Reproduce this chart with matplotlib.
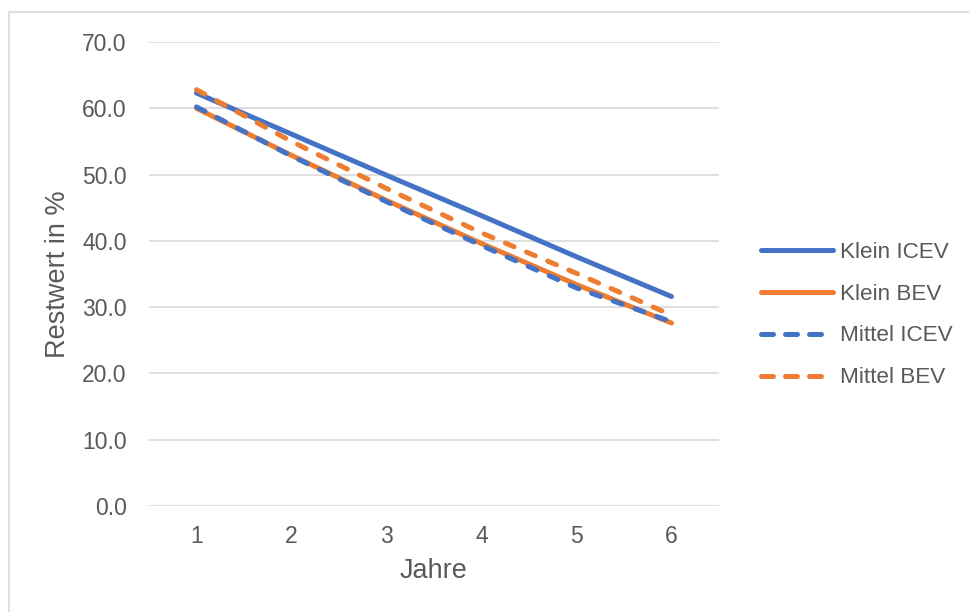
import matplotlib

matplotlib.use("Agg")
import matplotlib.pyplot as plt
from matplotlib.patches import Rectangle

plt.rcParams["font.family"] = ["Liberation Sans", "DejaVu Sans"]

# Daten
jahre = [1, 2, 3, 4, 5, 6]
klein_icev = [62.3, 56.1, 49.9, 43.8, 37.6, 31.6]
klein_bev = [60.0, 52.9, 46.1, 39.6, 33.4, 27.6]
mittel_icev = [60.2, 52.8, 45.9, 39.3, 32.9, 27.8]
mittel_bev = [62.8, 55.0, 47.9, 41.2, 35.1, 28.8]
y_ticks = [0, 10, 20, 30, 40, 50, 60, 70]

BLUE = "#4472C4"
ORANGE = "#ED7D31"
GRID = "#D9D9D9"
TEXT = "#595959"
FS_TICK = 16.5
FS_LEG = 16.2
FS_TITLE = 19.5

fig = plt.figure(figsize=(9.7, 6.12), dpi=100)
W, H = 970, 612

# Rahmen um das Diagramm
fig.patches.append(Rectangle((9 / W, -0.1), 1.1, 1 - 12 / H + 0.1,
                             transform=fig.transFigure, fill=False,
                             edgecolor=GRID, lw=1.2))

ax = fig.add_axes([149 / W, 1 - 506 / H, 570 / W, 464 / H])

lw = 3.6
dash = (1.9, 2.7)
ax.plot(jahre, klein_icev, color=BLUE, lw=lw, solid_capstyle="round",
        label="Klein ICEV")
ax.plot(jahre, klein_bev, color=ORANGE, lw=lw, solid_capstyle="round",
        label="Klein BEV")
ax.plot(jahre, mittel_icev, color=BLUE, lw=lw, dashes=dash,
        dash_capstyle="round", label="Mittel ICEV")
ax.plot(jahre, mittel_bev, color=ORANGE, lw=lw, dashes=dash,
        dash_capstyle="round", label="Mittel BEV")

ax.set_xlim(0.5, 6.5)
ax.set_ylim(0, 70)
ax.set_yticks(y_ticks)
ax.set_yticklabels([f"{v:.1f}" for v in y_ticks])
ax.set_xticks(jahre)
ax.set_xticklabels([str(j) for j in jahre])

ax.grid(axis="y", color=GRID, lw=1.2)
ax.set_axisbelow(True)
for s in ax.spines.values():
    s.set_visible(False)
ax.tick_params(length=0, labelsize=FS_TICK, labelcolor=TEXT)
ax.tick_params(axis="y", pad=16)
ax.tick_params(axis="x", pad=14)

ax.set_xlabel("Jahre", fontsize=FS_TITLE, color=TEXT, labelpad=7)
ax.set_ylabel("Restwert in %", fontsize=FS_TITLE, color=TEXT, labelpad=8)

leg = ax.legend(loc="center left", bbox_to_anchor=(750 / W, 1 - 315 / H),
                bbox_transform=fig.transFigure, frameon=False,
                fontsize=FS_LEG, labelcolor=TEXT, handlelength=3.2,
                handletextpad=0.3, labelspacing=0.93, borderpad=0)
# in der Legende etwas laengere Striche (3 pro Symbol)
for h in leg.legend_handles[2:]:
    h.set_dashes((2.4, 2.4))

fig.savefig("out.png", dpi=100)
